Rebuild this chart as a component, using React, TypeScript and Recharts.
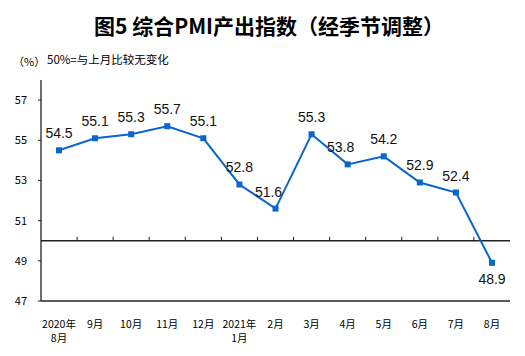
import React from "react";
import { LineChart, Line, XAxis, YAxis, ReferenceLine } from "recharts";

const categories = [
  "2020年\n8月", "9月", "10月", "11月", "12月", "2021年\n1月",
  "2月", "3月", "4月", "5月", "6月", "7月", "8月",
];
const values = [54.5, 55.1, 55.3, 55.7, 55.1, 52.8, 51.6, 55.3, 53.8, 54.2, 52.9, 52.4, 48.9];
const yTicks = [47, 49, 51, 53, 55, 57];
const title = "图5 综合PMI产出指数（经季节调整）";
const unitLabel = "（%）";
const note = "50%=与上月比较无变化";

const data = categories.map((c, i) => ({ month: c, v: values[i] }));

const BLUE = "#0a66cc";
const AXIS = "#222";
const CJK = "'Noto Sans CJK SC', 'Liberation Sans', sans-serif";

const XTick = (props: any) => {
  const { x, y, payload } = props;
  const lines = String(payload.value).split("\n");
  return (
    <g>
      {lines.map((l: string, i: number) => (
        <text key={i} x={x} y={y + 19 + i * 14} textAnchor="middle" fontSize={10.5} fontFamily={CJK} fill="#000">
          {l}
        </text>
      ))}
    </g>
  );
};

const YTick = (props: any) => {
  const { x, y, payload } = props;
  return (
    <text x={x} y={y + 4} textAnchor="end" fontSize={11} fontFamily={CJK} fill="#000">
      {payload.value}
    </text>
  );
};

const Dot = (props: any) => {
  const { cx, cy, index } = props;
  if (cx == null || cy == null) return <g key={index} />;
  return <rect key={index} x={cx - 3} y={cy - 3} width={6} height={6} fill={BLUE} />;
};

const Label = (props: any) => {
  const { x, y, value, index } = props;
  const below = value < 50;
  const prev = values[index - 1];
  const next = values[index + 1];
  const trough = !below && prev != null && next != null && value < prev && value < next;
  return (
    <text
      x={x + (trough ? -7 : 0)}
      y={below ? y + 21 : y - 12}
      textAnchor="middle"
      fontSize={14}
      fontFamily="'Liberation Sans', Arial, sans-serif"
      fill="#111"
    >
      {value.toFixed(1)}
    </text>
  );
};

const FiftyLine = (props: any) => {
  const { x1, y1, x2, y2 } = props;
  if (x1 == null) return <g />;
  const n = categories.length;
  const step = (x2 - x1) / n;
  const ticks = [];
  for (let k = 1; k < n; k++) {
    const tx = x1 + step * k;
    ticks.push(<line key={k} x1={tx} x2={tx} y1={y1} y2={y1 - 4} stroke={AXIS} strokeWidth={1} />);
  }
  return (
    <g>
      <line x1={x1} y1={y1} x2={x2} y2={y2} stroke={AXIS} strokeWidth={1.3} />
      {ticks}
    </g>
  );
};

export default function App() {
  return (
    <div style={{ position: "absolute", left: 0, top: 0, width: 525, height: 356, background: "#fff" }}>
      <div
        style={{
          position: "absolute",
          left: 0,
          width: 538,
          top: 11,
          textAlign: "center",
          fontFamily: CJK,
          fontWeight: 700,
          fontSize: 21,
          lineHeight: "28px",
          color: "#000",
          whiteSpace: "nowrap",
        }}
      >
        {title}
      </div>
      <div style={{ position: "absolute", left: 13, top: 53, fontFamily: CJK, fontSize: 11, color: "#000" }}>
        {unitLabel}
      </div>
      <div style={{ position: "absolute", left: 47, top: 51, fontFamily: CJK, fontSize: 11.5, color: "#000", whiteSpace: "nowrap" }}>
        {note}
      </div>
      <LineChart
        width={525}
        height={356}
        data={data}
        margin={{ top: 80, right: 15, bottom: 25, left: 0 }}
      >
        <XAxis
          dataKey="month"
          xAxisId="top"
          orientation="top"
          height={0}
          tick={false}
          tickLine={false}
          axisLine={{ stroke: AXIS, strokeWidth: 1.3 }}
        />
        <XAxis
          dataKey="month"
          height={30}
          interval={0}
          tick={<XTick />}
          tickLine={false}
          padding={{ left: 18, right: 18 }}
          axisLine={{ stroke: AXIS, strokeWidth: 1.3 }}
        />
        <YAxis
          domain={[47, 58]}
          ticks={yTicks}
          width={41}
          tickSize={3}
          tickMargin={11}
          tick={<YTick />}
          tickLine={{ stroke: AXIS }}
          axisLine={{ stroke: AXIS, strokeWidth: 1.3 }}
          allowDataOverflow
        />
        <YAxis
          yAxisId="right"
          orientation="right"
          domain={[47, 58]}
          width={0}
          tick={false}
          tickLine={false}
          axisLine={{ stroke: AXIS, strokeWidth: 1.3 }}
        />
        <ReferenceLine y={50} shape={<FiftyLine />} />
        <Line
          dataKey="v"
          stroke={BLUE}
          strokeWidth={2}
          dot={<Dot />}
          activeDot={false}
          label={<Label />}
          isAnimationActive={false}
        />
      </LineChart>
    </div>
  );
}
